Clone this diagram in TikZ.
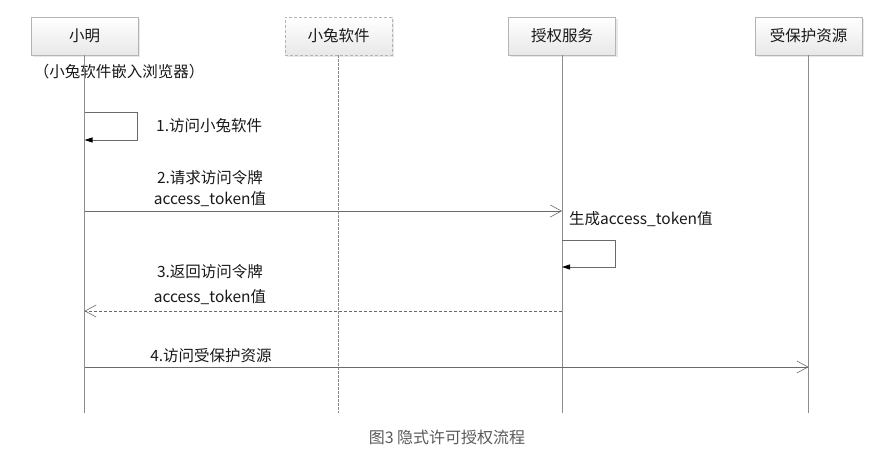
\documentclass[tikz,border=0pt]{standalone}
\usepackage{fontspec}
\setmainfont{Noto Sans CJK SC}
\usetikzlibrary{arrows.meta,shadows}
\definecolor{boxline}{HTML}{B4B4B4}
\definecolor{lifeline}{HTML}{8C8C8C}
\definecolor{msgline}{HTML}{6A6A6A}
\definecolor{captiongray}{HTML}{5A5A5A}
\tikzset{
  txt/.style={font=\fontsize{15.5}{18}\selectfont, text=black!90},
  actor/.style={draw=boxline, line width=0.9pt, minimum width=107pt, minimum height=38pt,
    top color=white, bottom color=black!9, txt,
    drop shadow={shadow xshift=2pt, shadow yshift=-2pt, fill=black!18}},
  ghost/.style={actor, dashed, dash pattern=on 3pt off 2pt},
  life/.style={draw=lifeline, line width=0.8pt},
  ghostlife/.style={life, dash pattern=on 2.5pt off 1.5pt},
  msg/.style={draw=msgline, line width=0.8pt, -{Straight Barb[length=11pt,width=12pt,line width=0.6pt]}},
  reply/.style={msg, dash pattern=on 3pt off 2pt},
  selfmsg/.style={draw=msgline, line width=0.8pt, -{Triangle[length=8pt,width=5pt,color=black]}},
  lbl/.style={txt, inner sep=0pt},
}
\begin{document}
\begin{tikzpicture}[x=1pt,y=1pt]
\useasboundingbox (0,0) rectangle (874,-457);

% participants
\node[actor] (xm) at (84.5,-36) {小明};
\node[ghost] (app) at (338.5,-36) {小兔软件};
\node[actor] (auth) at (562,-36) {授权服务};
\node[actor] (res) at (808.5,-36) {受保护资源};
\node[lbl] (note) at (119,-72) {（小兔软件嵌入浏览器）};

% lifeline ends
\coordinate (xmE) at (84.5,-413);
\coordinate (appE) at (338.5,-413);
\coordinate (authE) at (562,-413);
\coordinate (resE) at (808.5,-413);
\draw[life] (xm.south) -- (xmE);
\draw[ghostlife] (app.south) -- (appE);
\draw[life] (auth.south) -- (authE);
\draw[life] (res.south) -- (resE);

% 1. self call on 小明
\coordinate (s1a) at (84.5,-112);
\coordinate (s1b) at (84.5,-140);
\draw[selfmsg] (s1a) -- ++(53,0) |- (s1b);
\node[lbl, anchor=west] (l1) at (156,-126) {1.访问小兔软件};

% 2. request
\coordinate (m2a) at (84.5,-211);
\coordinate (m2b) at (562,-211);
\draw[msg] (m2a) -- (m2b);
\node[lbl] (l2a) at (210,-178) {2.请求访问令牌};
\node[lbl] (l2b) at (210,-199) {access\_token值};

% self call on 授权服务
\coordinate (s2a) at (562,-240);
\coordinate (s2b) at (562,-267);
\draw[selfmsg] (s2a) -- ++(53,0) |- (s2b);
\node[lbl, anchor=west] (l2c) at (569,-219) {生成access\_token值};

% 3. reply
\coordinate (m3a) at (562,-311);
\coordinate (m3b) at (84.5,-311);
\draw[reply] (m3a) -- (m3b);
\node[lbl] (l3a) at (210,-272) {3.返回访问令牌};
\node[lbl] (l3b) at (210,-297) {access\_token值};

% 4. resource access
\coordinate (m4a) at (84.5,-367);
\coordinate (m4b) at (808.5,-367);
\draw[msg] (m4a) -- (m4b);
\node[lbl] (l4) at (211,-356) {4.访问受保护资源};

% caption
\node[lbl, text=captiongray, font=\fontsize{16}{18}\selectfont] (cap) at (447,-437) {图3 隐式许可授权流程};
\end{tikzpicture}
\end{document}
